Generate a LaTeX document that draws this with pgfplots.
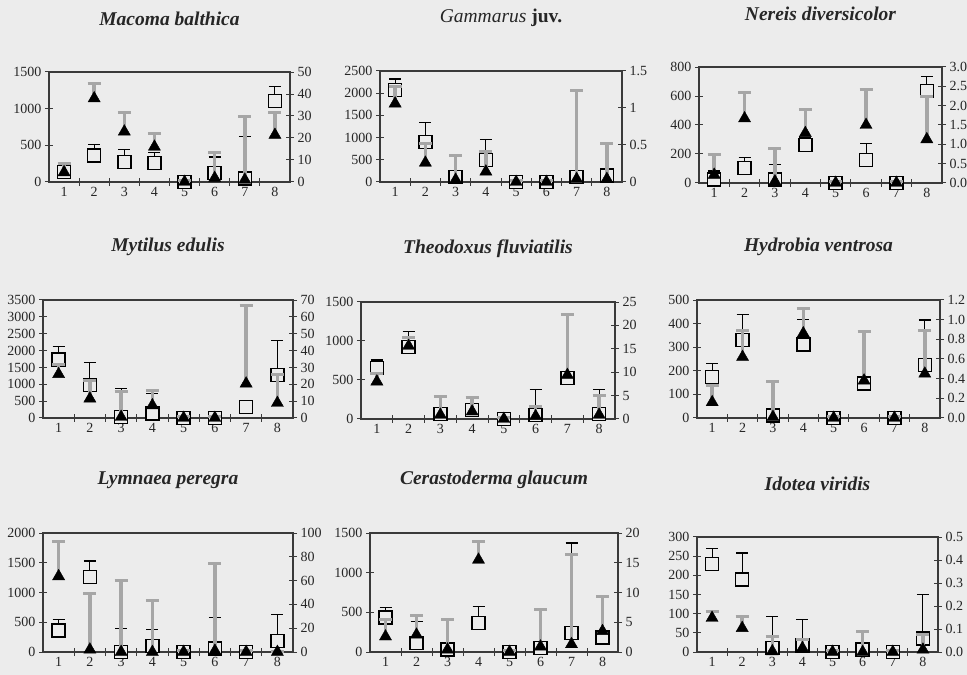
\documentclass[border=0pt]{standalone}
\usepackage{fontspec}
\setmainfont{Liberation Serif}
\usepackage{pgfplots}
\pgfplotsset{compat=1.18}
\definecolor{paper}{HTML}{ECECEC}
\definecolor{bargray}{HTML}{A6A6A6}
\definecolor{axgray}{HTML}{3A3A3A}
\pgfplotsset{
  base/.style={scale only axis, anchor=south west, xmin=0.5, xmax=8.5, ymin=0, clip=false,
    axis line style={axgray, line width=1.1pt},
    tick style={axgray, line width=1pt},
    tick align=center, major tick length=8pt,
    ticklabel style={font=\fontsize{14}{16}\selectfont, text=black!85},
    xticklabel style={yshift=-2pt},
    /pgf/number format/assume math mode=true,
    /pgf/number format/1000 sep={},
    scaled y ticks=false,
    title style={font=\fontsize{19.5}{22}\selectfont\bfseries\itshape, text=black!85, at={(0.5,1)}, anchor=center, yshift=47pt},
  },
  leftax/.style={base, xtick={1.5,2.5,3.5,4.5,5.5,6.5,7.5}, xticklabels={},
    extra x ticks={1,2,3,4,5,6,7,8}, extra x tick labels={1,2,3,4,5,6,7,8},
    extra x tick style={major tick length=0pt},
    ytick pos=left, xtick pos=left},
  rightax/.style={base, axis x line=none, axis y line*=right, ytick pos=right},
  dec/.style={yticklabel style={/pgf/number format/.cd, fixed, fixed zerofill, precision=1}},
  sq/.style={only marks, mark=square*, mark size=6.5pt,
    mark options={fill=paper, draw=black, line width=1.4pt},
    error bars/.cd, y dir=plus, y explicit,
    error bar style={black, line width=1pt},
    error mark options={rotate=90, black, mark size=6pt, line width=1.2pt}},
  tri/.style={only marks, mark=triangle*, mark size=7pt,
    mark options={fill=black, draw=black},
    error bars/.cd, y dir=plus, y explicit,
    error bar style={bargray, line width=3.5pt},
    error mark options={rotate=90, bargray, mark size=6.5pt, line width=3pt}},
}
\begin{document}
\begin{tikzpicture}
\useasboundingbox (0,0) rectangle (967pt,675pt);
\fill[paper] (0,0) rectangle (967pt,675pt);

% ---------- Macoma balthica
\begin{axis}[leftax, at={(49pt,493pt)}, width=241pt, height=110pt, ymax=1500, ytick={0,500,1000,1500}, title={Macoma balthica}]
\addplot[sq] coordinates {(1,140)+-(0,45) (2,360)+-(0,146) (3,271)+-(0,167) (4,258)+-(0,142) (5,0)+-(0,25) (6,122)+-(0,218) (7,45)+-(0,575) (8,1103)+-(0,203)};
\end{axis}
\begin{axis}[rightax, at={(49pt,493pt)}, width=241pt, height=110pt, ymax=50, ytick={0,10,20,30,40,50}]
\addplot[tri] coordinates {(1,4.4)+-(0,4.2) (2,38)+-(0,6.7) (3,22.9)+-(0,8.6) (4,16)+-(0,6) (5,0)+-(0,0.8) (6,1.8)+-(0,11.6) (7,1)+-(0,28.7) (8,21.4)+-(0,10.1)};
\end{axis}

% ---------- Gammarus juv.
\begin{axis}[leftax, at={(380pt,493pt)}, width=242pt, height=111pt, ymax=2500, ytick={0,500,1000,1500,2000,2500}, title={{\mdseries Gammarus} {\upshape juv.}}]
\addplot[sq] coordinates {(1,2071)+-(0,248) (2,904)+-(0,429) (3,113)+-(0,60) (4,490)+-(0,466) (5,0)+-(0,30) (6,0)+-(0,30) (7,113)+-(0,60) (8,150)+-(0,60)};
\end{axis}
\begin{axis}[rightax, at={(380pt,493pt)}, width=242pt, height=111pt, ymax=1.5, ytick={0,0.5,1,1.5}]
\addplot[tri] coordinates {(1,1.06)+-(0,0.23) (2,0.26)+-(0,0.26) (3,0.03)+-(0,0.33) (4,0.14)+-(0,0.27) (5,0)+-(0,0.02) (6,0)+-(0,0.02) (7,0.04)+-(0,1.19) (8,0.04)+-(0,0.48)};
\end{axis}

% ---------- Nereis diversicolor
\begin{axis}[leftax, at={(699pt,492pt)}, width=243pt, height=116pt, ymax=800, ytick={0,200,400,600,800}, title={Nereis diversicolor}]
\addplot[sq] coordinates {(1,23)+-(0,60) (2,103)+-(0,73) (3,23)+-(0,103) (4,263)+-(0,50) (5,0)+-(0,10) (6,160)+-(0,114) (7,0)+-(0,10) (8,635)+-(0,101)};
\end{axis}
\begin{axis}[rightax, dec, at={(699pt,492pt)}, width=243pt, height=116pt, ymax=3, ytick={0,0.5,1,1.5,2,2.5,3}]
\addplot[tri] coordinates {(1,0.21)+-(0,0.52) (2,1.67)+-(0,0.66) (3,0.04)+-(0,0.86) (4,1.29)+-(0,0.61) (5,0)+-(0,0.04) (6,1.5)+-(0,0.92) (7,0)+-(0,0.04) (8,1.13)+-(0,1.1)};
\end{axis}

% ---------- Mytilus edulis
\begin{axis}[leftax, at={(43pt,257pt)}, width=250pt, height=118pt, ymax=3500, ytick={0,500,1000,1500,2000,2500,3000,3500}, title={Mytilus edulis}]
\addplot[sq] coordinates {(1,1735)+-(0,396) (2,971)+-(0,674) (3,30)+-(0,842) (4,129)+-(0,600) (5,0)+-(0,40) (6,0)+-(0,40) (7,327)+-(0,60) (8,1268)+-(0,1041)};
\end{axis}
\begin{axis}[rightax, at={(43pt,257pt)}, width=250pt, height=118pt, ymax=70, ytick={0,10,20,30,40,50,60,70}]
\addplot[tri] coordinates {(1,26)+-(0,6) (2,11.5)+-(0,10.5) (3,0.6)+-(0,14.9) (4,7.5)+-(0,9) (5,0)+-(0,0.8) (6,0)+-(0,0.8) (7,20.4)+-(0,46.6) (8,8.9)+-(0,17)};
\end{axis}

% ---------- Theodoxus fluviatilis
\begin{axis}[leftax, at={(361pt,256pt)}, width=254pt, height=117pt, ymax=1500, ytick={0,500,1000,1500}, title={Theodoxus fluviatilis}]
\addplot[sq] coordinates {(1,650)+-(0,106) (2,926)+-(0,192) (3,64)+-(0,226) (4,119)+-(0,157) (5,0)+-(0,15) (6,55)+-(0,319) (7,523)+-(0,828) (8,64)+-(0,318)};
\end{axis}
\begin{axis}[rightax, at={(361pt,256pt)}, width=254pt, height=117pt, ymax=25, ytick={0,5,10,15,20,25}]
\addplot[tri] coordinates {(1,8)+-(0,1.8) (2,15.6)+-(0,1.9) (3,0.9)+-(0,3.9) (4,1.6)+-(0,3) (5,0)+-(0,0.25) (6,0.6)+-(0,2.1) (7,9.4)+-(0,12.9) (8,0.9)+-(0,4.1)};
\end{axis}

% ---------- Hydrobia ventrosa
\begin{axis}[leftax, at={(697pt,257pt)}, width=243pt, height=118pt, ymax=500, ytick={0,100,200,300,400,500}, title={Hydrobia ventrosa}]
\addplot[sq] coordinates {(1,174)+-(0,57) (2,330)+-(0,109) (3,11)+-(0,10) (4,312)+-(0,106) (5,0)+-(0,5) (6,146)+-(0,20) (7,0)+-(0,5) (8,224)+-(0,191)};
\end{axis}
\begin{axis}[rightax, dec, at={(697pt,257pt)}, width=243pt, height=118pt, ymax=1.2, ytick={0,0.2,0.4,0.6,0.8,1.0,1.2}]
\addplot[tri] coordinates {(1,0.16)+-(0,0.17) (2,0.62)+-(0,0.27) (3,0.01)+-(0,0.36) (4,0.86)+-(0,0.25) (5,0)+-(0,0.015) (6,0.38)+-(0,0.5) (7,0)+-(0,0.015) (8,0.45)+-(0,0.44)};
\end{axis}

% ---------- Lymnaea peregra
\begin{axis}[leftax, at={(43pt,23pt)}, width=250pt, height=119pt, ymax=2000, ytick={0,500,1000,1500,2000}, title={Lymnaea peregra}]
\addplot[sq] coordinates {(1,364)+-(0,179) (2,1260)+-(0,269) (3,0)+-(0,392) (4,100)+-(0,275) (5,0)+-(0,20) (6,56)+-(0,521) (7,0)+-(0,20) (8,185)+-(0,448)};
\end{axis}
\begin{axis}[rightax, at={(43pt,23pt)}, width=250pt, height=119pt, ymax=100, ytick={0,20,40,60,80,100}]
\addplot[tri] coordinates {(1,63.6)+-(0,29.4) (2,2)+-(0,47) (3,0)+-(0,60) (4,0)+-(0,43) (5,0)+-(0,1) (6,1)+-(0,73) (7,0)+-(0,1) (8,0)+-(0,0.5)};
\end{axis}

% ---------- Cerastoderma glaucum
\begin{axis}[leftax, at={(370pt,23pt)}, width=248pt, height=119pt, ymax=1500, ytick={0,500,1000,1500}, title={Cerastoderma glaucum}]
\addplot[sq] coordinates {(1,435)+-(0,129) (2,113)+-(0,271) (3,29)+-(0,30) (4,364)+-(0,208) (5,0)+-(0,15) (6,50)+-(0,40) (7,238)+-(0,1137) (8,184)+-(0,50)};
\end{axis}
\begin{axis}[rightax, at={(370pt,23pt)}, width=248pt, height=119pt, ymax=20, ytick={0,5,10,15,20}]
\addplot[tri] coordinates {(1,2.6)+-(0,2.8) (2,2.9)+-(0,3.3) (3,0.4)+-(0,5.1) (4,15.5)+-(0,3.1) (5,0)+-(0,0.2) (6,0.9)+-(0,6.2) (7,1.3)+-(0,15.1) (8,3.5)+-(0,5.8)};
\end{axis}

% ---------- Idotea viridis
\begin{axis}[leftax, at={(697pt,23pt)}, width=241pt, height=115pt, ymax=300, ytick={0,50,100,150,200,250,300}, title={Idotea viridis}]
\addplot[sq] coordinates {(1,230)+-(0,41) (2,189)+-(0,69) (3,10)+-(0,83) (4,17)+-(0,67) (5,0)+-(0,3) (6,6)+-(0,10) (7,0)+-(0,3) (8,35)+-(0,115)};
\end{axis}
\begin{axis}[rightax, dec, at={(697pt,23pt)}, width=241pt, height=115pt, ymax=0.5, ytick={0,0.1,0.2,0.3,0.4,0.5}]
\addplot[tri] coordinates {(1,0.148)+-(0,0.029) (2,0.104)+-(0,0.051) (3,0.003)+-(0,0.065) (4,0.017)+-(0,0.037) (5,0)+-(0,0.005) (6,0)+-(0,0.09) (7,0)+-(0,0.005) (8,0.01)+-(0,0.065)};
\end{axis}
\end{tikzpicture}
\end{document}
